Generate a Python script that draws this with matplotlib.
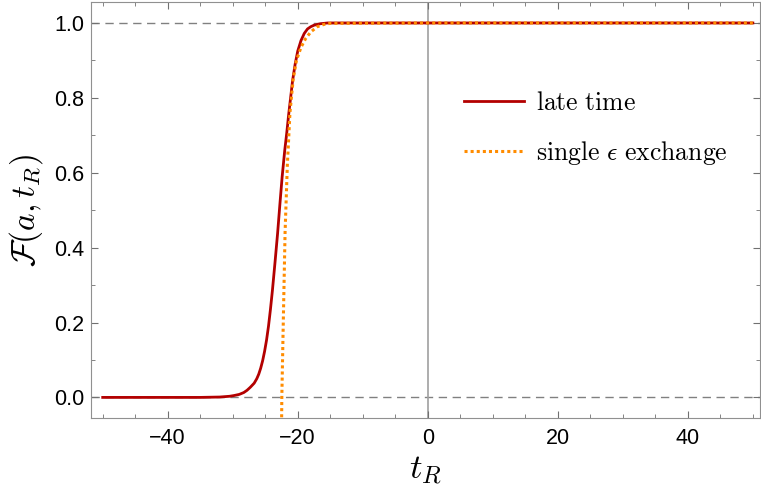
import numpy as np
import matplotlib.pyplot as plt
from matplotlib.ticker import MultipleLocator

plt.rcParams['mathtext.fontset'] = 'cm'
plt.rcParams['font.family'] = ['Liberation Sans', 'DejaVu Sans']

# late time curve
late_t = [-50, -40, -35, -32, -30.5, -29.8, -29.0, -28.3, -27.8, -27.3, -26.7, -26.3,
          -26.0, -25.7, -25.4, -25.1, -24.8, -24.5, -24.2, -23.9, -23.5, -23.1, -22.75,
          -22.4, -22.0, -21.7, -21.4, -21.1, -20.8, -20.4, -20.0, -19.5, -19.0, -18.5,
          -18.0, -17.5, -16.5, -15.4, 0, 50]
late_f = [0, 0, 0, 0.001, 0.003, 0.005, 0.008, 0.013, 0.019, 0.027, 0.038, 0.05,
          0.062, 0.078, 0.098, 0.123, 0.153, 0.19, 0.235, 0.285, 0.36, 0.438, 0.515,
          0.589, 0.66, 0.705, 0.755, 0.80, 0.845, 0.89, 0.925, 0.953, 0.972, 0.984,
          0.99, 0.994, 0.998, 1.0, 1.0, 1.0]

# single epsilon exchange curve
single_t = [-22.55, -22.45, -22.26, -21.95, -21.6, -21.2, -20.7, -20.2, -19.5, -18.8,
            -18.0, -17.0, -16.0, -15.0, 0, 50]
single_f = [-0.2, 0.0, 0.17, 0.44, 0.62, 0.76, 0.85, 0.90, 0.935, 0.958,
            0.976, 0.99, 0.996, 0.999, 1.0, 1.0]

fig = plt.figure(figsize=(7.61, 4.97), dpi=100)
ax = fig.add_axes([91 / 761, 79 / 497, 669 / 761, 416 / 497])

ax.axhline(0, color='#808080', lw=1.0, ls=(0, (6, 4)), zorder=1)
ax.axhline(1, color='#808080', lw=1.0, ls=(0, (6, 4)), zorder=1)
ax.axvline(0, color='#a0a0a0', lw=1.2, zorder=1)

ax.plot(late_t, late_f, color='#b30000', lw=2.0, label=r'$\mathrm{late\ time}$', zorder=3)
ax.plot(single_t, single_f, color='#ff8c00', lw=2.2, ls=(0, (1, 1)),
        label=r'$\mathrm{single}\ \epsilon\ \mathrm{exchange}$', zorder=4)

ax.set_xlim(-51.8, 51.1)
ax.set_ylim(-0.055, 1.056)

ax.xaxis.set_major_locator(MultipleLocator(20))
ax.xaxis.set_minor_locator(MultipleLocator(5))
ax.yaxis.set_major_locator(MultipleLocator(0.2))
ax.yaxis.set_minor_locator(MultipleLocator(0.1))
ax.yaxis.set_major_formatter(plt.FuncFormatter(lambda v, p: f'{v:.1f}'))
ax.xaxis.set_major_formatter(plt.FuncFormatter(lambda v, p: f'{v:.0f}'.replace('-', '\u2212')))

for s in ax.spines.values():
    s.set_color('#909090')
ax.tick_params(which='both', direction='in', top=True, right=True, color='#707070',
               labelsize=15.5, labelcolor='black')
ax.tick_params(which='major', length=5, width=0.8)
ax.tick_params(which='minor', length=3, width=0.6)
ax.tick_params(axis='x', pad=7)
ax.tick_params(axis='y', pad=5)

ax.set_xlabel(r'$t_R$', fontsize=25, labelpad=4)
ax.set_ylabel(r'$\mathcal{F}(a,t_R)$', fontsize=24, labelpad=6)

ax.legend(loc='upper left', bbox_to_anchor=(0.523, 0.842), frameon=False, fontsize=18.5,
          handlelength=2.35, labelspacing=0.95, handletextpad=0.47)

fig.savefig('out.png', dpi=100)
